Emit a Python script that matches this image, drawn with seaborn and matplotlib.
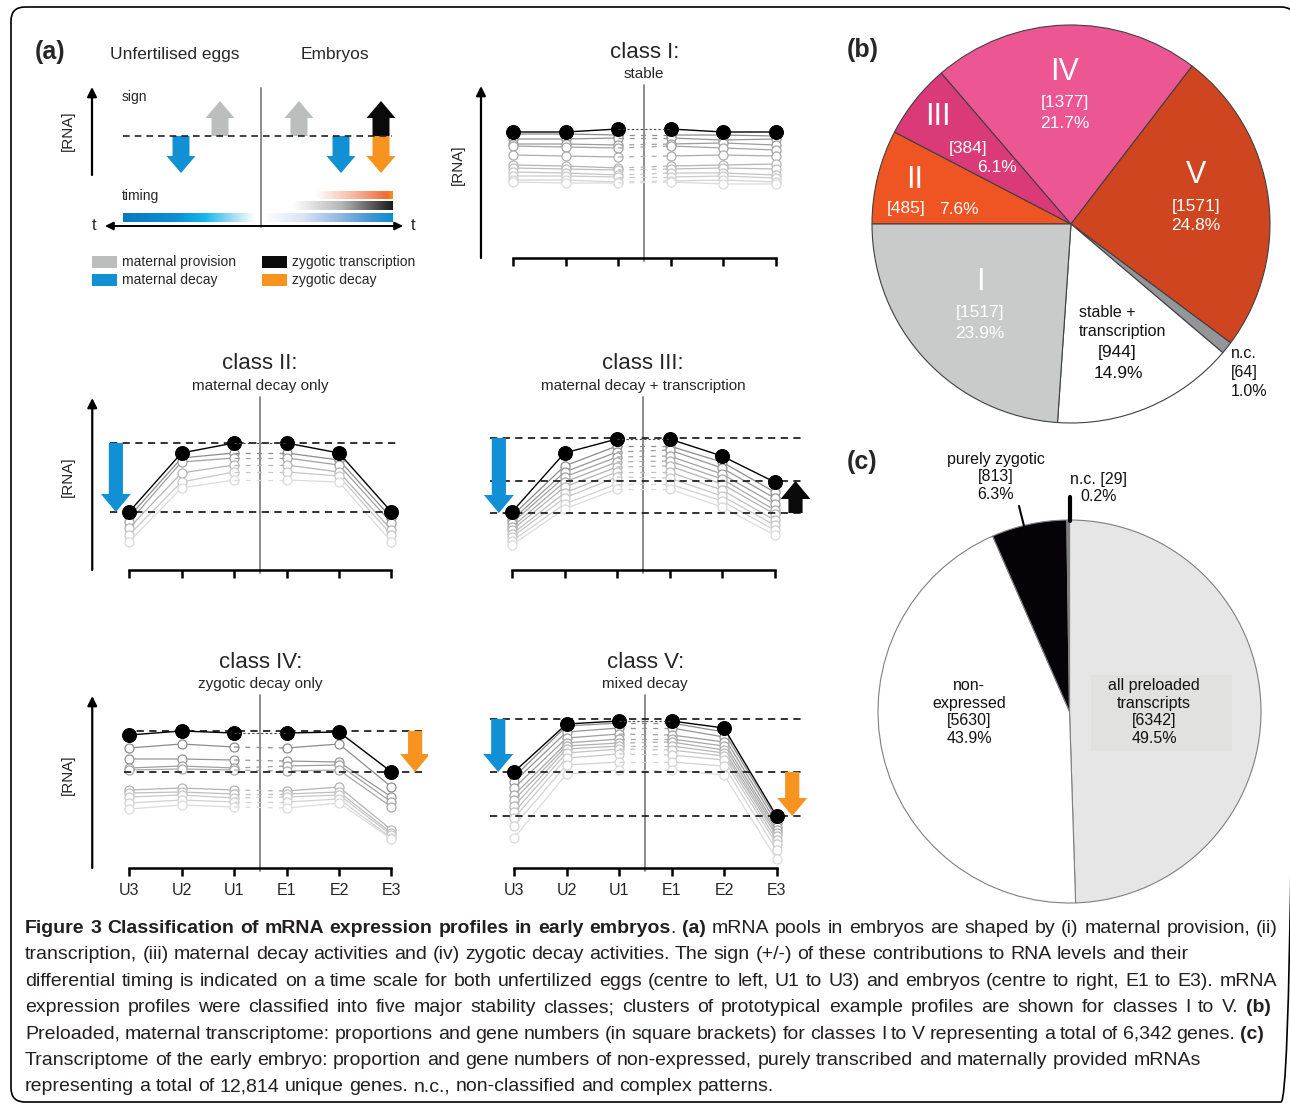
import numpy as np
import pandas as pd
import seaborn as sns
import matplotlib
matplotlib.use("Agg")
import matplotlib.pyplot as plt
from matplotlib.patches import FancyArrow, Rectangle, FancyBboxPatch
from matplotlib.colors import LinearSegmentedColormap
from matplotlib import font_manager

# ---------------- data ----------------
timepoints = ["U3", "U2", "U1", "E1", "E2", "E3"]

class_titles = ["class I:", "class II:", "class III:", "class IV:", "class V:"]
class_notes = ["stable", "maternal decay only", "maternal decay + transcription",
               "zygotic decay only", "mixed decay"]

# prototypical (black) profiles, [RNA] in arbitrary units
proto_I = [12.6, 12.6, 12.9, 12.9, 12.6, 12.6]
proto_II = [5.8, 11.7, 12.7, 12.7, 11.7, 5.8]
proto_III = [5.8, 11.7, 13.1, 13.1, 11.4, 8.8]
proto_IV = [13.3, 13.7, 13.5, 13.5, 13.6, 9.6]
proto_V = [9.6, 14.4, 14.7, 14.7, 14.0, 5.2]

# grey cluster members
cluster_I = [
    [12.4, 12.4, 12.3, 12.3, 12.3, 12.2],
    [11.9, 11.9, 12.0, 12.0, 11.8, 11.9],
    [11.4, 11.4, 11.3, 11.4, 11.5, 11.3],
    [11.2, 11.1, 11.0, 11.2, 11.0, 10.8],
    [10.3, 10.2, 10.1, 10.2, 10.3, 10.2],
    [9.3, 9.2, 9.0, 9.2, 9.3, 9.4],
    [9.0, 8.9, 8.8, 8.9, 9.0, 8.9],
    [8.6, 8.5, 8.3, 8.5, 8.5, 8.3],
    [8.2, 8.2, 8.1, 8.1, 8.2, 8.0],
    [7.8, 7.8, 7.6, 7.7, 7.8, 7.6],
    [7.6, 7.5, 7.5, 7.6, 7.4, 7.4],
]
cluster_II = [
    [5.3, 11.2, 11.7, 11.7, 11.0, 5.2],
    [4.8, 10.8, 11.2, 11.2, 10.5, 4.7],
    [4.2, 9.7, 10.5, 10.5, 9.8, 4.0],
    [3.5, 8.8, 9.8, 9.8, 9.4, 3.5],
    [2.8, 8.2, 9.0, 9.0, 8.8, 2.8],
]
cluster_III = [
    [5.4, 10.4, 12.4, 12.4, 10.8, 7.8],
    [5.0, 9.8, 11.8, 12.0, 10.2, 7.2],
    [4.7, 9.3, 11.3, 11.4, 9.6, 6.6],
    [4.3, 8.8, 10.8, 10.9, 9.1, 6.0],
    [4.0, 8.3, 10.3, 10.4, 8.6, 5.6],
    [3.6, 7.7, 9.8, 9.8, 8.0, 5.0],
    [3.3, 7.2, 9.3, 9.2, 7.4, 4.5],
    [2.9, 6.6, 8.6, 8.6, 6.9, 4.0],
    [2.5, 6.1, 8.1, 8.1, 6.3, 3.5],
]
cluster_IV = [
    [12.0, 12.4, 12.1, 12.0, 12.4, 8.1],
    [10.9, 10.9, 10.8, 10.7, 10.6, 7.1],
    [10.0, 10.2, 10.0, 10.2, 10.3, 6.6],
    [9.8, 9.9, 9.8, 9.7, 9.8, 6.1],
    [7.8, 8.0, 7.8, 7.7, 8.1, 3.8],
    [7.5, 7.6, 7.4, 7.4, 7.6, 3.5],
    [7.1, 7.3, 7.0, 7.1, 7.3, 3.3],
    [6.5, 6.8, 6.6, 6.6, 6.9, 3.0],
    [5.9, 6.3, 6.1, 6.0, 6.5, 2.9],
]
cluster_V = [
    [9.1, 14.2, 14.5, 14.5, 13.6, 4.9],
    [8.6, 13.6, 14.0, 14.0, 13.1, 4.5],
    [8.0, 13.0, 13.4, 13.3, 12.6, 4.1],
    [7.3, 12.5, 12.9, 12.9, 12.2, 3.8],
    [6.8, 12.2, 12.5, 12.6, 11.8, 3.5],
    [6.2, 11.9, 12.2, 12.2, 11.5, 3.2],
    [5.6, 11.5, 11.9, 11.8, 11.2, 2.8],
    [5.0, 11.0, 11.4, 11.3, 10.8, 2.4],
    [4.2, 10.3, 10.6, 10.6, 10.2, 1.8],
    [3.0, 9.4, 9.8, 9.8, 9.3, 0.9],
]

# dashed reference levels
levels_II = [12.7, 5.8]
levels_III = [13.2, 8.9, 5.7]
levels_IV = [13.7, 9.6]
levels_V = [14.9, 9.6, 5.2]

# (b) preloaded maternal transcriptome
preload_names = ["II", "III", "IV", "V", "n.c.", "stable +\ntranscription", "I"]
preload_counts = [485, 384, 1377, 1571, 64, 944, 1517]

# (c) transcriptome of the early embryo
embryo_names = ["all preloaded\ntranscripts", "non-\nexpressed", "purely zygotic", "n.c."]
embryo_counts = [6342, 5630, 813, 29]

legend_items = ["maternal provision", "maternal decay", "zygotic transcription", "zygotic decay"]

caption_lines = [
    [("Figure 3 Classification of mRNA expression profiles in early embryos", "bold"), (". ", "normal"),
     ("(a)", "bold"), (" mRNA pools in embryos are shaped by (i) maternal provision, (ii)", "normal")],
    [("transcription, (iii) maternal decay activities and (iv) zygotic decay activities. The sign (+/-) "
      "of these contributions to RNA levels and their", "normal")],
    [("differential timing is indicated on a time scale for both unfertilized eggs (centre to left, U1 to U3) "
      "and embryos (centre to right, E1 to E3). mRNA", "normal")],
    [("expression profiles were classified into five major stability classes; clusters of prototypical "
      "example profiles are shown for classes I to V. ", "normal"), ("(b)", "bold")],
    [("Preloaded, maternal transcriptome: proportions and gene numbers (in square brackets) for classes I "
      "to V representing a total of 6,342 genes. ", "normal"), ("(c)", "bold")],
    [("Transcriptome of the early embryo: proportion and gene numbers of non-expressed, purely transcribed "
      "and maternally provided mRNAs", "normal")],
    [("representing a total of 12,814 unique genes. n.c., non-classified and complex patterns.", "normal")],
]
caption_right = [1278, None, 1277, 1271, 1264, None, None]

# ---------------- style ----------------
BLUE, ORANGE, GREY, BLACK = "#1290d6", "#f7931e", "#bcbdbd", "#0a0a0a"
preload_colors = ["#ef5423", "#db3a78", "#ec5793", "#cf4520", "#939598", "white", "#c9caca"]
embryo_colors = ["#e6e6e6", "white", "#050208", "#7f7f7f"]

sns.set_style("white")
plt.rcParams["font.family"] = ["Liberation Sans", "DejaVu Sans"]
installed = {f.name for f in font_manager.fontManager.ttflist}
cap_family = "Liberation Sans Narrow" if "Liberation Sans Narrow" in installed else "Liberation Sans"

W, H = 1290, 1104
fig = plt.figure(figsize=(W / 100, H / 100), dpi=100)

PXU, PYU = 52.5, 10.0
XLIM, YLIM = (-0.9, 5.7), (-1.5, 18.0)


def class_axes(x0, base):
    left = x0 + XLIM[0] * PXU
    width = (XLIM[1] - XLIM[0]) * PXU
    top = base - YLIM[1] * PYU
    height = (YLIM[1] - YLIM[0]) * PYU
    return fig.add_axes([left / W, 1 - (top + height) / H, width / W, height / H])


def draw_class(ax, k, proto, cluster, levels, span, arrows, yarrow, rna_x, labels):
    ax.set_xlim(*XLIM)
    ax.set_ylim(*YLIM)
    ax.patch.set_alpha(0)
    greys = [str(v) for v in np.linspace(0.55, 0.86, len(cluster))]
    x = np.arange(6)
    for prof, c in zip(cluster, greys):
        prof = np.asarray(prof)
        for sl in (slice(0, 3), slice(3, 6)):
            sns.lineplot(x=x[sl], y=prof[sl], color=c, lw=0.9, marker="o", markersize=6.5,
                         markerfacecolor="white", markeredgecolor=c, markeredgewidth=0.9,
                         estimator=None, ax=ax, zorder=2)
        ax.plot(x[2:4], prof[2:4], color=c, lw=0.9, ls=(0, (4, 5)), zorder=2)
    proto = np.asarray(proto)
    for sl in (slice(0, 3), slice(3, 6)):
        sns.lineplot(x=x[sl], y=proto[sl], color="black", lw=1.0, marker="o", markersize=10,
                     markerfacecolor="black", markeredgecolor="black", estimator=None, ax=ax, zorder=4)
    ax.plot(x[2:4], proto[2:4], color="#444444", lw=0.8, ls=(0, (2, 2)), zorder=4)
    if levels:
        ax.hlines(levels, span[0], span[1], colors="#222222", lw=1.3, linestyles=(0, (4, 3)), zorder=3)
    for ax_x, i0, i1, col in arrows:
        ax.add_patch(FancyArrow(ax_x, levels[i0], 0, levels[i1] - levels[i0], width=0.27,
                                head_width=0.57, head_length=1.8, length_includes_head=True,
                                color=col, lw=0, zorder=5))
    ax.plot([2.5, 2.5], [-0.3, 17.3], color="#8c8c8c", lw=1.4, zorder=1)
    if yarrow is not None:
        ax.annotate("", xy=(yarrow, 17.2), xytext=(yarrow, 0), annotation_clip=False,
                    arrowprops=dict(arrowstyle="-|>", lw=1.6, color="black", mutation_scale=14,
                                    shrinkA=0, shrinkB=0))
        ax.text(rna_x, 9.3, "[RNA]", rotation=90, ha="center", va="center", fontsize=11)
    ax.text(2.5, 20.6, class_titles[k], ha="center", va="center", fontsize=16)
    ax.text(2.5, 18.4, class_notes[k], ha="center", va="center", fontsize=11)
    sns.despine(ax=ax, left=True, top=True, right=True)
    ax.spines["bottom"].set_position(("data", 0))
    ax.spines["bottom"].set_bounds(0, 5)
    ax.spines["bottom"].set_linewidth(1.8)
    ax.spines["bottom"].set_color("black")
    ax.set_xticks(range(6))
    ax.set_xticklabels(timepoints if labels else [""] * 6)
    ax.set_yticks([])
    ax.set_xlabel("")
    ax.set_ylabel("")
    ax.tick_params(axis="x", bottom=True, direction="out", length=6, width=1.8, pad=5,
                   labelsize=11.5, color="black")


specs = [
    (513, 258, proto_I, cluster_I, [], None, [], -0.61, -1.05, False),
    (129, 570, proto_II, cluster_II, levels_II, (-0.36, 5.17), [(-0.25, 0, 1, BLUE)], -0.70, -1.16, False),
    (512, 570, proto_III, cluster_III, levels_III, (-0.42, 5.55),
     [(-0.25, 0, 2, BLUE), (5.4, 2, 1, BLACK)], None, None, False),
    (129, 868, proto_IV, cluster_IV, levels_IV, (-0.1, 5.65), [(5.45, 0, 1, ORANGE)], -0.70, -1.16, True),
    (514, 868, proto_V, cluster_V, levels_V, (-0.45, 5.55),
     [(-0.3, 0, 1, BLUE), (5.3, 1, 2, ORANGE)], None, None, True),
]
for k, (x0, base, proto, cluster, levels, span, arrows, yarrow, rna_x, labels) in enumerate(specs):
    ax = class_axes(x0, base)
    draw_class(ax, k, proto, cluster, levels, span, arrows, yarrow, rna_x, labels)


# ---------------- pies ----------------
def pie_axes(cx, cy, r, pad=1.03):
    s = r * pad
    a = fig.add_axes([(cx - s) / W, 1 - (cy + s) / H, 2 * s / W, 2 * s / H])
    return a, pad


axb, pad = pie_axes(1071, 224, 199)
axb.pie(preload_counts, colors=preload_colors, startangle=180, counterclock=False,
        wedgeprops=dict(edgecolor="#404040", linewidth=0.8))
axb.set_xlim(-pad, pad)
axb.set_ylim(-pad, pad)

axc, pad = pie_axes(1069.5, 711.5, 191.5)
axc.pie(embryo_counts, colors=embryo_colors, startangle=90, counterclock=False,
        wedgeprops=dict(edgecolor="#7f7f7f", linewidth=0.8))
axc.set_xlim(-pad, pad)
axc.set_ylim(-pad, pad)

pre_tot = sum(preload_counts)
pre_pct = [f"{100 * c / pre_tot:.1f}%" for c in preload_counts]
emb_tot = sum(embryo_counts)
emb_pct = [f"{100 * c / emb_tot:.1f}%" for c in embryo_counts]

# ---------------- overlay in pixel coordinates ----------------
canvas = fig.add_axes([0, 0, 1, 1], zorder=5)
canvas.set_xlim(0, W)
canvas.set_ylim(H, 0)
canvas.set_autoscale_on(False)
canvas.axis("off")

# border
canvas.add_patch(FancyBboxPatch((11, 7), 1284, 1095, boxstyle="round,pad=0,rounding_size=14",
                                fc="none", ec="black", lw=1.2, clip_on=False))

# panel letters
for lab, xx, yy in [("(a)", 35, 52), ("(b)", 847, 50), ("(c)", 847, 462)]:
    canvas.text(xx, yy, lab, fontsize=18, fontweight="bold", ha="left", va="center")

# (a) schematic
canvas.text(175, 55, "Unfertilised eggs", fontsize=12.5, ha="center", va="center")
canvas.text(335, 55, "Embryos", fontsize=12.5, ha="center", va="center")
canvas.annotate("", xy=(92, 87), xytext=(92, 175),
                arrowprops=dict(arrowstyle="-|>", lw=1.6, color="black", mutation_scale=14,
                                shrinkA=0, shrinkB=0))
canvas.text(68, 131, "[RNA]", rotation=90, fontsize=11, ha="center", va="center")
canvas.text(122, 97, "sign", fontsize=10, ha="left", va="center")
canvas.text(122, 196, "timing", fontsize=10, ha="left", va="center")
canvas.plot([123, 392], [136, 136], color="#222222", lw=1.2, ls=(0, (4, 3)))
canvas.plot([261, 261], [88, 227], color="#8c8c8c", lw=1.4)

sign_arrows = [(181, 1, BLUE), (220, -1, GREY), (299, -1, GREY), (341, 1, BLUE),
               (381, -1, BLACK), (381, 1, ORANGE)]
for ax_x, d, col in sign_arrows:
    ln = 37 if d > 0 else 35
    canvas.add_patch(FancyArrow(ax_x, 136, 0, d * ln, width=17, head_width=29, head_length=17,
                                length_includes_head=True, color=col, lw=0))


def grad_bar(x0, x1, y0, y1, colors):
    cm = LinearSegmentedColormap.from_list("g", colors)
    canvas.imshow(np.linspace(0, 1, 256)[None, :], extent=(x0, x1, y1, y0), cmap=cm,
                  aspect="auto", interpolation="bilinear")


grad_bar(123, 255, 213, 222, [(0, "#0a78be"), (0.4, "#0a8fd6"), (0.62, "#14b6ec"),
                              (0.8, "#8fd6f2"), (1, "#ffffff")])
grad_bar(263, 393, 213, 222, [(0, "#ffffff"), (0.3, "#dce6f4"), (0.6, "#8fb6e0"),
                              (0.85, "#3b93d4"), (1, "#0a8fd4")])
grad_bar(292, 393, 201, 210, [(0, "#ffffff"), (0.5, "#b5b5b5"), (1, "#1a1a1a")])
grad_bar(315, 393, 191, 199, [(0, "#ffffff"), (0.5, "#f6b8a0"), (0.85, "#f0784a"),
                              (0.92, "#f26b2a"), (1, "#f7931e")])
canvas.annotate("", xy=(105, 226), xytext=(403, 226),
                arrowprops=dict(arrowstyle="<|-|>", lw=1.4, color="black", mutation_scale=12,
                                shrinkA=0, shrinkB=0))
canvas.text(94, 226, "t", fontsize=12, ha="center", va="center")
canvas.text(413, 226, "t", fontsize=12, ha="center", va="center")

legend_pos = [(92, 256, GREY), (92, 274, BLUE), (262, 256, BLACK), (262, 274, ORANGE)]
for name, (lx, ly, col) in zip(legend_items, legend_pos):
    canvas.add_patch(Rectangle((lx, ly), 25, 12, color=col, lw=0))
    canvas.text(lx + 30, ly + 6, name, fontsize=10, ha="left", va="center")

# (b) labels
wt = dict(color="white", ha="center", va="center")
bl = dict(color="#111111", va="center")
b_spots = {"II": [(915, 180), (906, 209), (959, 209)],
           "III": [(938, 117), (968, 148), (997, 168)],
           "IV": [(1065, 72), (1065, 103), (1065, 123)],
           "V": [(1196, 175), (1196, 206), (1196, 226)],
           "I": [(980, 282), (980, 312), (980, 333)]}
for name, cnt, pct in zip(preload_names, preload_counts, pre_pct):
    if name in b_spots:
        (rx, ry), (cx, cy), (px, py) = b_spots[name]
        canvas.text(rx, ry, name, fontsize=22, **wt)
        canvas.text(cx, cy, f"[{cnt}]", fontsize=12.5, **wt)
        canvas.text(px, py, pct, fontsize=12.5, **wt)
    elif name.startswith("stable"):
        canvas.text(1079, 322, name, fontsize=11.5, ha="left", linespacing=1.3, **bl)
        canvas.text(1117, 353, f"[{cnt}]", fontsize=12.5, ha="center", **bl)
        canvas.text(1118, 374, pct, fontsize=12.5, ha="center", **bl)
    else:
        canvas.text(1231, 353, name, fontsize=11.5, ha="left", **bl)
        canvas.text(1231, 372, f"[{cnt}]", fontsize=11.5, ha="left", **bl)
        canvas.text(1231, 391, pct, fontsize=11.5, ha="left", **bl)

# (c) labels
canvas.add_patch(Rectangle((1091, 675), 141, 76, color="#e1e1df", lw=0))
for name, cnt, pct in zip(embryo_names, embryo_counts, emb_pct):
    if name.startswith("all"):
        canvas.text(1154, 712, f"{name}\n[{cnt}]\n{pct}", fontsize=11.5, ha="center",
                    linespacing=1.2, **bl)
    elif name.startswith("non"):
        canvas.text(969, 712, f"{name}\n[{cnt}]\n{pct}", fontsize=11.5, ha="center",
                    linespacing=1.2, **bl)
    elif name.startswith("purely"):
        canvas.text(996, 477, f"{name}\n[{cnt}]\n{pct}", fontsize=11.5, ha="center",
                    linespacing=1.2, **bl)
        canvas.plot([1019, 1024], [506, 526], color="black", lw=1.5)
    else:
        canvas.text(1099, 488, f"{name} [{cnt}]\n{pct}", fontsize=11.5, ha="center",
                    linespacing=1.2, **bl)
        canvas.plot([1070, 1070], [497, 521], color="black", lw=3)

# ---------------- caption ----------------
renderer = fig.canvas.get_renderer()


def word_w(s, size, weight):
    t = canvas.text(0, 0, s, fontsize=size, fontweight=weight, family=cap_family)
    w = t.get_window_extent(renderer=renderer).width
    t.remove()
    return w


def tokens_of(segments):
    toks, pending = [], False
    for text, weight in segments:
        for j, p in enumerate(text.split(" ")):
            if j > 0:
                pending = True
            if p:
                toks.append((p, weight, pending and bool(toks)))
                pending = False
    return toks


def natural_width(segments, size):
    toks = tokens_of(segments)
    sp = word_w("a a", size, "normal") - word_w("aa", size, "normal")
    return sum(word_w(p, size, w) for p, w, _ in toks) + sp * sum(s for _, _, s in toks)


cap_size = 12 * 1163 / natural_width(caption_lines[1], 12)

for i, segs in enumerate(caption_lines):
    toks = tokens_of(segs)
    widths = [word_w(p, cap_size, w) for p, w, _ in toks]
    n_sp = sum(s for _, _, s in toks)
    sp = word_w("a a", cap_size, "normal") - word_w("aa", cap_size, "normal")
    if caption_right[i] is not None and n_sp:
        sp = (caption_right[i] - 25 - sum(widths)) / n_sp
    xc = 25
    base = 933 + i * 26.4
    for (p, w, s), ww in zip(toks, widths):
        if s:
            xc += sp
        canvas.text(xc, base, p, fontsize=cap_size, fontweight=w, family=cap_family,
                    ha="left", va="baseline", color="#231f20")
        xc += ww

canvas.set_xlim(0, W)
canvas.set_ylim(H, 0)
fig.savefig("out.png", dpi=100)
